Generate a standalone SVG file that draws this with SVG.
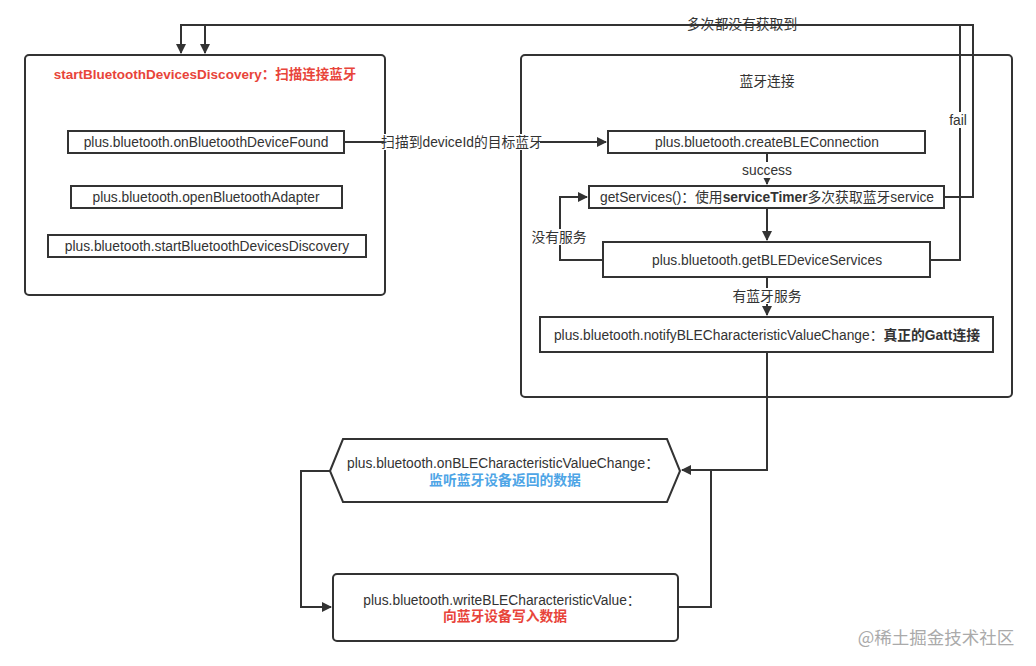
<svg xmlns="http://www.w3.org/2000/svg" width="1036" height="666" viewBox="0 0 1036 666">
<defs>
<style>
.box{fill:#fff;stroke:#333;stroke-width:2}
.cont{fill:#fff;stroke:#333;stroke-width:2}
.t{font-family:"Liberation Sans","Noto Sans CJK SC",sans-serif;font-size:13.8px;fill:#333;text-anchor:middle;dominant-baseline:central}
.b{font-weight:bold}
.red{fill:#e8443a;font-weight:bold}
.blue{fill:#4ea5e6;font-weight:bold}
.ln{fill:none;stroke:#333;stroke-width:2}
.lbl{fill:#fff}
</style>
<marker id="ah" viewBox="0 0 10 10" refX="9" refY="5" markerWidth="5" markerHeight="5" orient="auto" markerUnits="strokeWidth">
<path d="M0,0 L10,5 L0,10 z" fill="#333"/>
</marker>
</defs>
<rect width="1036" height="666" fill="#fff"/>

<g id="containers">
<g id="left-container">
<rect class="cont" x="25" y="55" width="360" height="240" rx="4"/>
<text class="t red" x="205" y="74" style="font-size:13.5px">startBluetoothDevicesDiscovery：扫描连接蓝牙</text>
</g>
<g id="right-container">
<rect class="cont" x="521" y="55" width="491" height="342" rx="4"/>
<text class="t" x="767" y="81">蓝牙连接</text>
</g>
</g>

<g id="connectors">
<path class="ln" d="M944,197 H973 V25 H181 V53" marker-end="url(#ah)"/>
<path class="ln" d="M930,260 H960 V25 H205 V53" marker-end="url(#ah)"/>
<path class="ln" d="M344,142 H606" marker-end="url(#ah)"/>
<path class="ln" d="M767,153 V184" marker-end="url(#ah)"/>
<path class="ln" d="M767,208 V240" marker-end="url(#ah)"/>
<path class="ln" d="M603,260 H560 V197 H587" marker-end="url(#ah)"/>
<path class="ln" d="M767,277 V315" marker-end="url(#ah)"/>
<path class="ln" d="M767,352 V470 H682" marker-end="url(#ah)"/>
<path class="ln" d="M330,471 H301 V607 H331" marker-end="url(#ah)"/>
<path class="ln" d="M678,607 H711 V471"/>
<rect class="lbl" x="384" y="134" width="156" height="16"/>
<text class="t" x="462" y="142">扫描到deviceId的目标蓝牙</text>
<text class="t" x="742" y="24">多次都没有获取到</text>
<rect class="lbl" x="947" y="112" width="24" height="16"/>
<text class="t" x="958" y="120">fail</text>
<rect class="lbl" x="739" y="162" width="56" height="16"/>
<text class="t" x="767" y="170">success</text>
<rect class="lbl" x="530" y="229" width="58" height="16"/>
<text class="t" x="559" y="237">没有服务</text>
<rect class="lbl" x="731" y="288" width="72" height="16"/>
<text class="t" x="767" y="296">有蓝牙服务</text>
</g>

<g id="n-found">
<rect class="box" x="68" y="131" width="276" height="22"/>
<text class="t" x="206" y="142">plus.bluetooth.onBluetoothDeviceFound</text>
</g>
<g id="n-open">
<rect class="box" x="71" y="186" width="271" height="22"/>
<text class="t" x="206" y="197">plus.bluetooth.openBluetoothAdapter</text>
</g>
<g id="n-start">
<rect class="box" x="48" y="235" width="318" height="22"/>
<text class="t" x="207" y="246">plus.bluetooth.startBluetoothDevicesDiscovery</text>
</g>
<g id="n-create">
<rect class="box" x="608" y="131" width="317" height="22"/>
<text class="t" x="767" y="142">plus.bluetooth.createBLEConnection</text>
</g>
<g id="n-getservices">
<rect class="box" x="589" y="186" width="355" height="22"/>
<text class="t" x="767" y="197">getServices()：使用<tspan class="b">serviceTimer</tspan>多次获取蓝牙service</text>
</g>
<g id="n-getble">
<rect class="box" x="603" y="242" width="327" height="35"/>
<text class="t" x="767" y="260">plus.bluetooth.getBLEDeviceServices</text>
</g>
<g id="n-notify">
<rect class="box" x="540" y="317" width="453" height="35"/>
<text class="t" x="767" y="335">plus.bluetooth.notifyBLECharacteristicValueChange：<tspan class="b">真正的Gatt连接</tspan></text>
</g>
<g id="n-onchange">
<polygon class="box" points="330,471 343,439 667,439 680,471 667,502 343,502"/>
<text class="t" x="503" y="463">plus.bluetooth.onBLECharacteristicValueChange：</text>
<text class="t blue" x="505" y="480">监听蓝牙设备返回的数据</text>
</g>
<g id="n-write">
<rect class="box" x="333" y="574" width="345" height="67" rx="4"/>
<text class="t" x="502" y="600">plus.bluetooth.writeBLECharacteristicValue：</text>
<text class="t red" x="505" y="616">向蓝牙设备写入数据</text>
</g>
<text x="936" y="636" style="font-family:'Noto Sans CJK SC',sans-serif;font-size:17.5px;fill:#aaa;text-anchor:middle;dominant-baseline:central">@稀土掘金技术社区</text>
</svg>
